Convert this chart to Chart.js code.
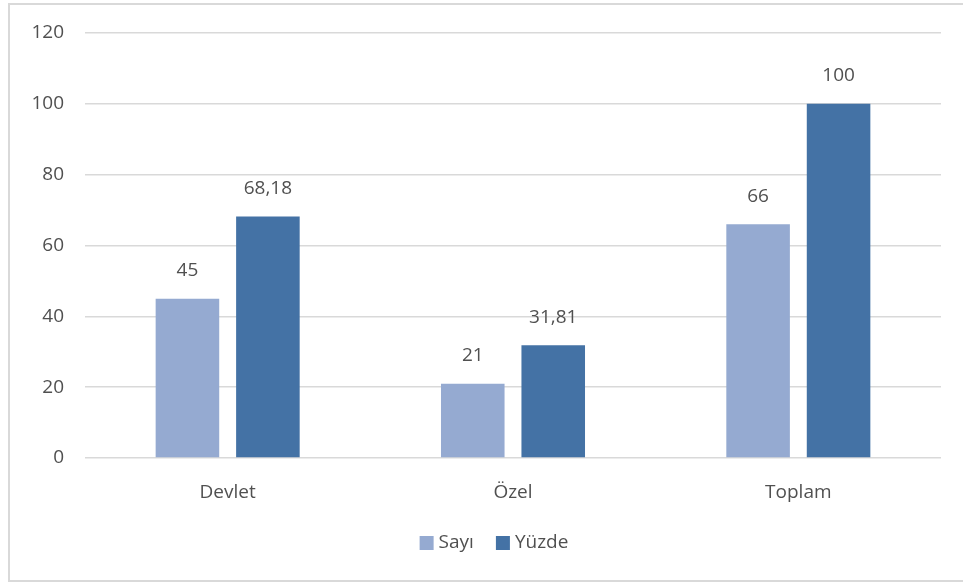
<!DOCTYPE html>
<html lang="tr">
<head>
<meta charset="utf-8">
<title>Devlet / Özel</title>
<script src="https://cdn.jsdelivr.net/npm/chart.js@4/dist/chart.umd.min.js"></script>
<style>
  html, body { margin: 0; padding: 0; background: #ffffff; }
  #wrap { width: 963px; height: 583px; position: relative; }
</style>
</head>
<body>
<div id="wrap"><canvas id="c" width="963" height="583"></canvas></div>
<script>
// Categories and series
const categories = ['Devlet', 'Özel', 'Toplam'];
const sayi = [45, 21, 66];
const yuzde = [68.18, 31.81, 100];
const seriesNames = ['Sayı', 'Yüzde'];
const yTicks = [0, 20, 40, 60, 80, 100, 120];

const TEXT = '#505050';
const FONT = '"Open Sans", "Liberation Sans", sans-serif';
const FONT_SIZE = 19;
const COLORS = ['#95aad1', '#4472a5'];

function fmt(v) { return String(v).replace('.', ','); }

// Light frame around the whole figure
const framePlugin = {
  id: 'frame',
  beforeDraw(chart) {
    const ctx = chart.ctx;
    ctx.save();
    ctx.fillStyle = '#ffffff';
    ctx.fillRect(0, 0, chart.width, chart.height);
    ctx.strokeStyle = '#d9d9d9';
    ctx.lineWidth = 2;
    ctx.strokeRect(9, 4, chart.width + 10, chart.height - 2 - 4);
    ctx.restore();
  }
};

// Value labels above each bar
const valueLabels = {
  id: 'valueLabels',
  afterDatasetsDraw(chart) {
    const ctx = chart.ctx;
    ctx.save();
    ctx.font = FONT_SIZE + 'px ' + FONT;
    ctx.fillStyle = TEXT;
    ctx.textAlign = 'center';
    ctx.textBaseline = 'middle';
    chart.data.datasets.forEach((ds, i) => {
      const meta = chart.getDatasetMeta(i);
      meta.data.forEach((bar, j) => {
        ctx.fillText(fmt(ds.data[j]), bar.x, bar.y - 28);
      });
    });
    ctx.restore();
  }
};

// Legend row under the axis
const legendRow = {
  id: 'legendRow',
  afterDraw(chart) {
    const ctx = chart.ctx;
    ctx.save();
    ctx.font = FONT_SIZE + 'px ' + FONT;
    ctx.textBaseline = 'middle';
    const box = 14, gap = 5, spacing = 22, cy = 543, centerX = 494;
    const items = chart.data.datasets.map(ds => ({
      label: ds.label, color: ds.backgroundColor,
      w: box + gap + ctx.measureText(ds.label).width
    }));
    const total = items.reduce((s, it) => s + it.w, 0) + spacing * (items.length - 1);
    let x = centerX - total / 2;
    items.forEach(it => {
      ctx.fillStyle = it.color;
      ctx.fillRect(x, cy - box / 2, box, box);
      ctx.fillStyle = TEXT;
      ctx.textAlign = 'left';
      ctx.fillText(it.label, x + box + gap, cy);
      x += it.w + spacing;
    });
    ctx.restore();
  }
};

new Chart(document.getElementById('c'), {
  type: 'bar',
  data: {
    labels: categories,
    datasets: [
      { label: seriesNames[0], data: sayi, backgroundColor: COLORS[0] },
      { label: seriesNames[1], data: yuzde, backgroundColor: COLORS[1] }
    ]
  },
  options: {
    responsive: false,
    animation: false,
    devicePixelRatio: 1,
    categoryPercentage: 0.564,
    barPercentage: 0.79,
    layout: { padding: { left: 0, right: 22, top: 33, bottom: 0 } },
    plugins: {
      legend: { display: false },
      tooltip: { enabled: false }
    },
    scales: {
      x: {
        grid: { display: false },
        border: { display: false },
        ticks: {
          color: TEXT,
          font: { family: FONT, size: FONT_SIZE },
          padding: 15
        },
        afterFit(scale) { scale.height = 583 - 458; }
      },
      y: {
        min: 0,
        max: 120,
        afterBuildTicks(scale) { scale.ticks = yTicks.map(v => ({ value: v })); },
        grid: { color: '#d9d9d9', lineWidth: 1.5, drawTicks: false },
        border: { display: false },
        ticks: {
          color: TEXT,
          font: { family: FONT, size: FONT_SIZE },
          padding: 21
        },
        afterFit(scale) { scale.width = 85; }
      }
    }
  },
  plugins: [framePlugin, valueLabels, legendRow]
});
</script>
</body>
</html>
